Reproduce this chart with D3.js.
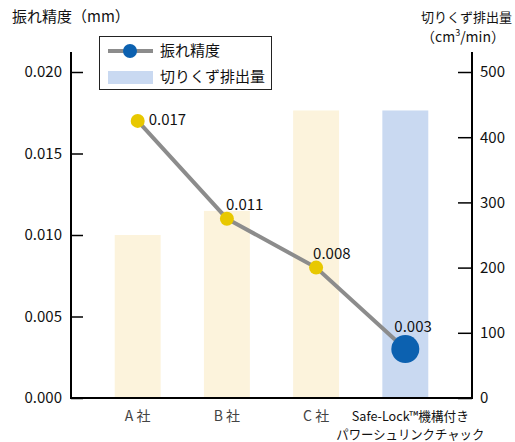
<!DOCTYPE html>
<html>
<head>
<meta charset="utf-8">
<script src="https://cdn.jsdelivr.net/npm/d3@7"></script>
<style>
  body { margin: 0; background: #fff; }
  svg { font-family: "Noto Sans CJK JP", "Noto Sans", sans-serif; }
</style>
</head>
<body>
<svg id="chart" width="515" height="442"></svg>
<script>
// data
const categories = ['A 社', 'B 社', 'C 社', 'Safe-Lock™'];
const catLabels = [['A 社'], ['B 社'], ['C 社'], ['Safe-Lock™機構付き', 'パワーシュリンクチャック']];
const runout = [0.017, 0.011, 0.008, 0.003];          // 振れ精度 (mm)
const chips = [250, 287, 441, 441];                   // 切りくず排出量 (cm3/min)
const leftTicks = [0, 0.005, 0.010, 0.015, 0.020];
const rightTicks = [0, 100, 200, 300, 400, 500];

const svg = d3.select('#chart');
const pLeft = 71, pRight = 472, pTop = 72, pBottom = 398;

const x = d3.scaleBand()
    .domain(categories)
    .range([pLeft, pRight])
    .paddingInner(0.485)
    .paddingOuter(0.49);

const yL = d3.scaleLinear().domain([0, 0.020]).range([pBottom, pTop]);
const yR = d3.scaleLinear().domain([0, 500]).range([pBottom, pTop]);

// bars
svg.append('g').selectAll('rect')
    .data(chips)
    .enter().append('rect')
    .attr('x', (d, i) => x(categories[i]))
    .attr('y', d => yR(d))
    .attr('width', x.bandwidth())
    .attr('height', d => pBottom - yR(d))
    .attr('fill', (d, i) => i === 3 ? '#c9d9f1' : '#fcf3dc');

// axes
const axL = svg.append('g')
    .attr('transform', `translate(${pLeft},0)`)
    .call(d3.axisRight(yL).tickValues(leftTicks).tickSize(12));
axL.select('.domain').remove();
axL.selectAll('text').remove();
axL.selectAll('line').attr('stroke', '#000').attr('stroke-width', 1.5);

svg.append('g').selectAll('text')
    .data(leftTicks)
    .enter().append('text')
    .attr('x', pLeft - 9)
    .attr('y', d => yL(d))
    .attr('dy', '0.36em')
    .attr('text-anchor', 'end')
    .attr('font-size', 15)
    .attr('fill', '#111')
    .text(d3.format('.3f'));

const axR = svg.append('g')
    .attr('transform', `translate(${pRight},0)`)
    .call(d3.axisLeft(yR).tickValues(rightTicks).tickSize(14));
axR.select('.domain').remove();
axR.selectAll('text').remove();
axR.selectAll('line').attr('stroke', '#000').attr('stroke-width', 1.5);

svg.append('g').selectAll('text')
    .data(rightTicks)
    .enter().append('text')
    .attr('x', pRight + 8)
    .attr('y', d => yR(d))
    .attr('dy', '0.36em')
    .attr('font-size', 15)
    .attr('fill', '#111')
    .text(d => d);

// frame lines
svg.append('path')
    .attr('d', `M${pLeft},${pTop - 20}V${pBottom}H${pRight}V${pTop - 20}`)
    .attr('fill', 'none')
    .attr('stroke', '#000')
    .attr('stroke-width', 2);

// category labels
const xl = svg.append('g').selectAll('text')
    .data(catLabels)
    .enter().append('text')
    .attr('text-anchor', 'middle')
    .attr('font-size', (d) => d.length > 1 ? 13 : 14)
    .attr('fill', '#444')
    .attr('transform', (d, i) => `translate(${x(categories[i]) + x.bandwidth() / 2 + (d.length > 1 ? 5 : 0)},421)`);
xl.selectAll('tspan')
    .data(d => d)
    .enter().append('tspan')
    .attr('x', 0)
    .attr('y', (d, i) => i * 18)
    .attr('textLength', (d, i, n) => n.length > 1 ? (i === 0 ? 117 : 148) : null)
    .attr('lengthAdjust', 'spacingAndGlyphs')
    .attr('fill', (d, i, n) => n.length > 1 ? '#111' : '#444')
    .text(d => d);

// line series
const cx = (d, i) => x(categories[i]) + x.bandwidth() / 2;
const line = d3.line().x(cx).y(d => yL(d));

svg.append('path')
    .datum(runout)
    .attr('d', line)
    .attr('fill', 'none')
    .attr('stroke', '#8c8c8c')
    .attr('stroke-width', 4);

svg.append('g').selectAll('circle')
    .data(runout)
    .enter().append('circle')
    .attr('cx', cx)
    .attr('cy', d => yL(d))
    .attr('r', (d, i) => i === 3 ? 14 : 7)
    .attr('fill', (d, i) => i === 3 ? '#0c61b0' : '#e8c800');

// value labels
const labelOff = [[11, 4], [-1, -9], [-3, -9], [-11, -17]];
svg.append('g').selectAll('text')
    .data(runout)
    .enter().append('text')
    .attr('x', (d, i) => cx(d, i) + labelOff[i][0])
    .attr('y', (d, i) => yL(d) + labelOff[i][1])
    .attr('font-size', 15)
    .attr('fill', '#111')
    .text(d3.format('.3f'));

// axis titles
svg.append('text')
    .attr('x', 12).attr('y', 22)
    .attr('font-size', 15).attr('fill', '#111')
    .text('振れ精度（mm）');

svg.append('text')
    .attr('x', 421).attr('y', 22)
    .attr('font-size', 13).attr('fill', '#111')
    .attr('textLength', 91)
    .attr('lengthAdjust', 'spacingAndGlyphs')
    .text('切りくず排出量');

const unit = svg.append('text')
    .attr('x', 463).attr('y', 42)
    .attr('text-anchor', 'middle')
    .attr('font-size', 14).attr('fill', '#111');
unit.append('tspan').text('（cm');
unit.append('tspan').attr('font-size', 9).attr('dy', -6).text('3');
unit.append('tspan').attr('dy', 6).text('/min）');

// legend
const lg = svg.append('g');
lg.append('rect')
    .attr('x', 99.5).attr('y', 36.5).attr('width', 172).attr('height', 53)
    .attr('fill', '#fff').attr('stroke', '#222').attr('stroke-width', 1);
lg.append('line')
    .attr('x1', 108).attr('x2', 153).attr('y1', 51).attr('y2', 51)
    .attr('stroke', '#8c8c8c').attr('stroke-width', 4);
lg.append('circle')
    .attr('cx', 130).attr('cy', 51).attr('r', 7).attr('fill', '#0c61b0');
lg.append('text')
    .attr('x', 160).attr('y', 51).attr('dy', '0.36em')
    .attr('font-size', 15).attr('fill', '#111').text('振れ精度');
lg.append('rect')
    .attr('x', 108).attr('y', 71).attr('width', 45).attr('height', 13)
    .attr('fill', '#c9d9f1');
lg.append('text')
    .attr('x', 160).attr('y', 77).attr('dy', '0.36em')
    .attr('font-size', 15).attr('fill', '#111').text('切りくず排出量');
</script>
</body>
</html>
